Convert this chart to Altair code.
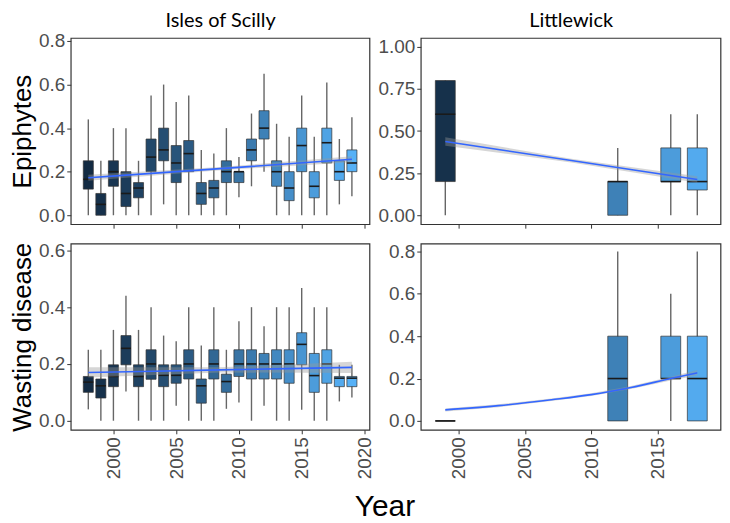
import altair as alt
import pandas as pd

# ---------------- data ----------------
# Isles of Scilly - Epiphytes
sc_years = list(range(1998, 2020))
sc_epi_lo  = [0.00, 0.00, 0.00, 0.00, 0.00, 0.00, 0.05, 0.00, 0.00, 0.00, 0.00, 0.00, 0.083, 0.133, 0.20, 0.00, 0.00, 0.00, 0.00, 0.00, 0.05, 0.087]
sc_epi_q1  = [0.12, 0.00, 0.133, 0.04, 0.08, 0.20, 0.25, 0.15, 0.20, 0.05, 0.08, 0.15, 0.15, 0.25, 0.35, 0.133, 0.067, 0.20, 0.08, 0.24, 0.16, 0.20]
sc_epi_med = [0.165, 0.05, 0.20, 0.10, 0.125, 0.267, 0.30, 0.24, 0.283, 0.10, 0.125, 0.20, 0.20, 0.30, 0.40, 0.20, 0.125, 0.32, 0.133, 0.333, 0.20, 0.24]
sc_epi_q3  = [0.25, 0.10, 0.25, 0.20, 0.15, 0.35, 0.40, 0.32, 0.343, 0.15, 0.16, 0.25, 0.20, 0.35, 0.48, 0.25, 0.20, 0.40, 0.20, 0.40, 0.25, 0.30]
sc_epi_hi  = [0.44, 0.25, 0.40, 0.40, 0.25, 0.55, 0.60, 0.52, 0.55, 0.30, 0.283, 0.40, 0.267, 0.467, 0.65, 0.42, 0.36, 0.55, 0.36, 0.61, 0.35, 0.45]

# Isles of Scilly - Wasting disease
sc_wd_lo  = [0.04, 0.00, 0.00, 0.103, 0.00, 0.00, 0.00, 0.053, 0.00, 0.00, 0.00, 0.042, 0.064, 0.00, 0.053, 0.00, 0.00, 0.039, 0.00, 0.00, 0.068, 0.082]
sc_wd_q1  = [0.10, 0.08, 0.12, 0.197, 0.12, 0.146, 0.12, 0.132, 0.147, 0.062, 0.147, 0.10, 0.156, 0.147, 0.147, 0.147, 0.132, 0.197, 0.10, 0.132, 0.12, 0.12]
sc_wd_med = [0.136, 0.123, 0.156, 0.255, 0.156, 0.20, 0.16, 0.16, 0.20, 0.123, 0.20, 0.138, 0.20, 0.20, 0.20, 0.20, 0.20, 0.269, 0.159, 0.20, 0.15, 0.15]
sc_wd_q3  = [0.156, 0.147, 0.197, 0.30, 0.197, 0.25, 0.197, 0.197, 0.25, 0.147, 0.25, 0.164, 0.25, 0.25, 0.237, 0.25, 0.25, 0.31, 0.237, 0.25, 0.156, 0.156]
sc_wd_hi  = [0.25, 0.25, 0.32, 0.44, 0.32, 0.40, 0.30, 0.28, 0.40, 0.265, 0.40, 0.25, 0.35, 0.40, 0.333, 0.40, 0.40, 0.468, 0.40, 0.40, 0.197, 0.197]

# Littlewick
lw_years = [1999, 2012, 2016, 2018]
lw_epi_lo  = [0.00, 0.00, 0.00, 0.00]
lw_epi_q1  = [0.20, 0.00, 0.20, 0.15]
lw_epi_med = [0.60, 0.20, 0.20, 0.20]
lw_epi_q3  = [0.80, 0.20, 0.40, 0.40]
lw_epi_hi  = [0.80, 0.40, 0.60, 0.60]

lw_wd_lo  = [0.00, 0.00, 0.00, 0.00]
lw_wd_q1  = [0.00, 0.00, 0.20, 0.00]
lw_wd_med = [0.00, 0.20, 0.20, 0.20]
lw_wd_q3  = [0.00, 0.40, 0.40, 0.40]
lw_wd_hi  = [0.00, 0.80, 0.60, 0.80]

# fitted trend lines
sc_epi_fit_x  = [1998, 2008.5, 2019]
sc_epi_fit    = [0.172, 0.214, 0.257]
sc_epi_fit_lo = [0.158, 0.207, 0.243]
sc_epi_fit_hi = [0.186, 0.221, 0.271]

sc_wd_fit_x  = [1998, 2008.5, 2019]
sc_wd_fit    = [0.170, 0.179, 0.188]
sc_wd_fit_lo = [0.152, 0.170, 0.168]
sc_wd_fit_hi = [0.188, 0.188, 0.208]

lw_epi_fit_x  = [1999, 2008.5, 2018]
lw_epi_fit    = [0.438, 0.325, 0.212]
lw_epi_fit_lo = [0.413, 0.314, 0.193]
lw_epi_fit_hi = [0.463, 0.336, 0.231]

lw_wd_fit_x  = [1999, 2003, 2007, 2010, 2013, 2016, 2018]
lw_wd_fit    = [0.052, 0.072, 0.100, 0.124, 0.158, 0.200, 0.227]
lw_wd_fit_lo = [0.045, 0.065, 0.094, 0.118, 0.151, 0.191, 0.214]
lw_wd_fit_hi = [0.059, 0.079, 0.106, 0.130, 0.165, 0.209, 0.240]

BOX_COLORS = ["#132B43", "#56B1F7"]
FONT = "Liberation Sans"


def panel(years, lo, q1, med, q3, hi, fx, fy, flo, fhi, xdom, ydom, xticks,
          yticks, yfmt, box_w, show_xlabels, ytitle=None, col_title=None,
          w=300, h=187):
    df = pd.DataFrame({"year": years, "lo": lo, "q1": q1, "med": med,
                       "q3": q3, "hi": hi})
    fit = pd.DataFrame({"year": fx, "fit": fy, "flo": flo, "fhi": fhi})
    xs = alt.Scale(domain=xdom, nice=False, zero=False)
    ys = alt.Scale(domain=ydom, nice=False, zero=False)
    xax = alt.Axis(values=xticks, labels=show_xlabels, labelAngle=270,
                   format="d", title=None, domain=False, grid=False,
                   tickColor="#333333", tickSize=4, labelPadding=3,
                   labelFontSize=19, labelColor="#4D4D4D", labelFont=FONT)
    yax = alt.Axis(values=yticks, format=yfmt, title=ytitle, domain=False,
                   grid=False, tickColor="#333333", tickSize=4,
                   labelPadding=2, labelFontSize=19, labelColor="#4D4D4D",
                   labelFont=FONT, titleFontSize=26, titleFont=FONT,
                   titleFontWeight="normal", titleColor="black",
                   titlePadding=3)
    if col_title:
        top_ax = alt.Axis(orient="top", title=col_title, labels=False,
                          ticks=False, domain=False, grid=False,
                          titleFont="Lato", titleFontSize=20,
                          titleFontWeight="normal", titleColor="black",
                          titlePadding=8)
    else:
        top_ax = None
    base = alt.Chart(df).transform_calculate(
        xl=f"datum.year - {box_w / 2}", xr=f"datum.year + {box_w / 2}")
    whisk = base.mark_rule(color="#666666", strokeWidth=1.4).encode(
        x=alt.X("year:Q", scale=xs, axis=xax),
        y=alt.Y("lo:Q", scale=ys, axis=yax),
        y2="hi:Q")
    boxes = base.mark_rect(stroke="#333333", strokeWidth=0.7).encode(
        x=alt.X("xl:Q", axis=None), x2="xr:Q",
        y=alt.Y("q1:Q", axis=None), y2="q3:Q",
        color=alt.Color("year:Q", legend=None,
                        scale=alt.Scale(domain=[1998, 2019],
                                        range=BOX_COLORS, interpolate="lab")))
    meds = base.mark_rule(color="#1A1A1A", strokeWidth=1.6).encode(
        x=alt.X("xl:Q", axis=None), x2="xr:Q", y=alt.Y("med:Q", axis=None))
    fb = alt.Chart(fit)
    band = fb.mark_area(color="#999999", opacity=0.4).encode(
        x=alt.X("year:Q", axis=top_ax), y=alt.Y("flo:Q", axis=None),
        y2="fhi:Q")
    line = fb.mark_line(color="#3366FF", strokeWidth=1.6,
                        interpolate="monotone").encode(
        x=alt.X("year:Q", axis=None), y=alt.Y("fit:Q", axis=None))
    return alt.layer(whisk, boxes, meds, band, line).resolve_axis(
        x="independent", y="independent").properties(width=w, height=h)


sc_xdom = [1996.6, 2020.4]
lw_xdom = [1997.15, 2019.75]

tl = panel(sc_years, sc_epi_lo, sc_epi_q1, sc_epi_med, sc_epi_q3, sc_epi_hi,
           sc_epi_fit_x, sc_epi_fit, sc_epi_fit_lo, sc_epi_fit_hi,
           sc_xdom, [-0.041, 0.814], [2000, 2005, 2010, 2015, 2020],
           [0, 0.2, 0.4, 0.6, 0.8], ".1f", 0.8, False,
           ytitle="Epiphytes", col_title="Isles of Scilly", w=300)
tr = panel(lw_years, lw_epi_lo, lw_epi_q1, lw_epi_med, lw_epi_q3, lw_epi_hi,
           lw_epi_fit_x, lw_epi_fit, lw_epi_fit_lo, lw_epi_fit_hi,
           lw_xdom, [-0.053, 1.053], [2000, 2005, 2010, 2015],
           [0, 0.25, 0.5, 0.75, 1.0], ".2f", 1.5, False,
           col_title="Littlewick", w=301)
bl = panel(sc_years, sc_wd_lo, sc_wd_q1, sc_wd_med, sc_wd_q3, sc_wd_hi,
           sc_wd_fit_x, sc_wd_fit, sc_wd_fit_lo, sc_wd_fit_hi,
           sc_xdom, [-0.032, 0.624], [2000, 2005, 2010, 2015, 2020],
           [0, 0.2, 0.4, 0.6], ".1f", 0.8, True,
           ytitle="Wasting disease", w=300)
br = panel(lw_years, lw_wd_lo, lw_wd_q1, lw_wd_med, lw_wd_q3, lw_wd_hi,
           lw_wd_fit_x, lw_wd_fit, lw_wd_fit_lo, lw_wd_fit_hi,
           lw_xdom, [-0.042, 0.837], [2000, 2005, 2010, 2015],
           [0, 0.2, 0.4, 0.6, 0.8], ".1f", 1.5, True, w=301)

chart = alt.concat(
    tl, tr, bl, br, columns=2,
    spacing=alt.RowColnumber(row=19.5, column=51.5),
    bounds="flush",
).resolve_scale(x="independent", y="independent", color="shared").properties(
    padding=0,
    title=alt.TitleParams("Year", orient="bottom", anchor="middle",
                          font=FONT, fontSize=30, fontWeight="normal",
                          color="black", offset=13, dx=20),
).configure_view(stroke="#333333", strokeWidth=1.2)

chart.save("out.html", embed_options={"renderer": "svg", "actions": False})
